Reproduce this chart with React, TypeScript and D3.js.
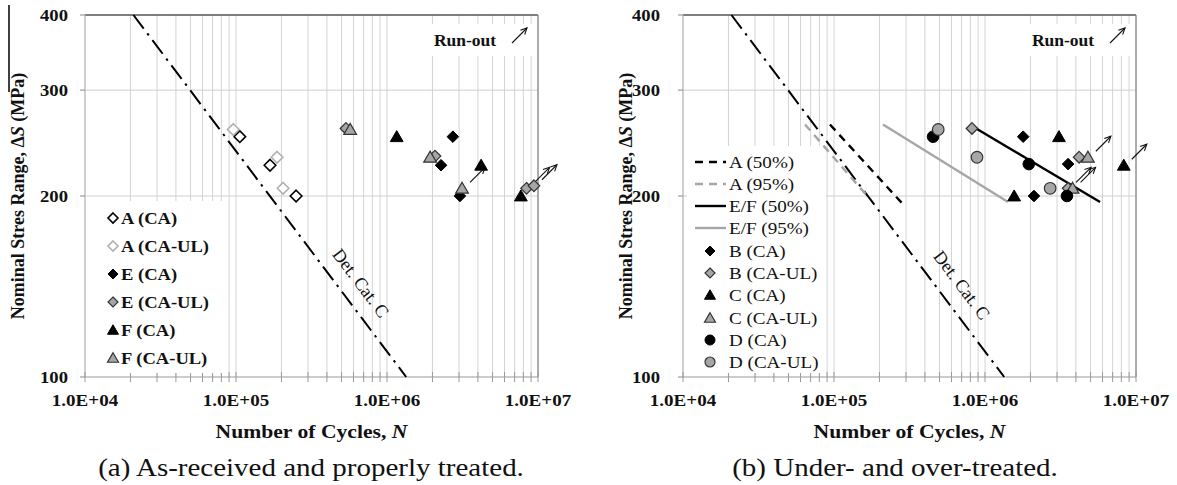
import React from 'react';
import * as d3 from 'd3';

type Pt = { n: number; s: number; ro?: boolean };

const yTickValues = [100, 200, 300, 400];
const yGridValues = [200, 300];
const xTickValues = [1e4, 1e5, 1e6, 1e7];
const xTickLabels = ['1.0E+04', '1.0E+05', '1.0E+06', '1.0E+07'];

// Panel (a)
const A_CA: Pt[] = [{ n: 1.06e5, s: 251 }, { n: 1.68e5, s: 225 }, { n: 2.5e5, s: 200 }];
const A_CAUL: Pt[] = [{ n: 9.6e4, s: 258 }, { n: 1.87e5, s: 232 }, { n: 2.05e5, s: 206 }];
const E_CA: Pt[] = [{ n: 2.73e6, s: 251 }, { n: 2.28e6, s: 225 }, { n: 3.04e6, s: 200 }];
const E_CAUL: Pt[] = [{ n: 5.35e5, s: 259 }, { n: 2.08e6, s: 233 }, { n: 8.4e6, s: 206, ro: true }, { n: 9.4e6, s: 208, ro: true }];
const F_CA: Pt[] = [{ n: 1.16e6, s: 251 }, { n: 4.2e6, s: 225 }, { n: 7.7e6, s: 200 }];
const F_CAUL: Pt[] = [{ n: 5.7e5, s: 258 }, { n: 1.93e6, s: 232 }, { n: 3.14e6, s: 206, ro: true }];

// Panel (b)
const B_CA: Pt[] = [{ n: 1.79e6, s: 251 }, { n: 3.55e6, s: 226 }, { n: 2.11e6, s: 200 }];
const B_CAUL: Pt[] = [{ n: 8.2e5, s: 259 }, { n: 4.2e6, s: 232 }, { n: 3.55e6, s: 206, ro: true }];
const C_CA: Pt[] = [{ n: 3.09e6, s: 251 }, { n: 8.3e6, s: 225, ro: true }, { n: 1.56e6, s: 200 }];
const C_CAUL: Pt[] = [{ n: 4.8e6, s: 232, ro: true }, { n: 3.8e6, s: 206, ro: true }];
const D_CA: Pt[] = [{ n: 4.53e5, s: 251 }, { n: 1.95e6, s: 226 }, { n: 3.49e6, s: 200 }];
const D_CAUL: Pt[] = [{ n: 4.9e5, s: 258 }, { n: 8.85e5, s: 232 }, { n: 2.7e6, s: 206 }];

// Fitted curves, panel (b): [N start, N end], [S start, S end]
const A50_N = [9.4e4, 2.82e5];
const A50_S = [263, 194.6];
const A95_N = [6.43e4, 1.66e5];
const A95_S = [263, 200];
const EF50_N = [8.3e5, 5.78e6];
const EF50_S = [261, 195.5];
const EF95_N = [2.11e5, 1.42e6];
const EF95_S = [263, 195.5];

// Detail category C: N = A / S^3
const DET_C_A = 1.34e12;
const DET_C_S = [400, 100];

const FONT = '"Liberation Serif", "Times New Roman", serif';
const GRAY = '#a6a6a6';

type Shape = 'diamond' | 'triangle' | 'circle';
interface MarkerStyle { shape: Shape; fill: string; stroke: string; sw: number }

const markerPath = (shape: Shape, size: number) => {
  if (shape === 'diamond') return `M0,${-size}L${size},0L0,${size}L${-size},0Z`;
  if (shape === 'triangle') return `M0,${-size * 1.05}L${size * 1.1},${size * 0.85}L${-size * 1.1},${size * 0.85}Z`;
  return '';
};

const Marker = ({ x, y, st, size }: { x: number; y: number; st: MarkerStyle; size: number }) =>
  st.shape === 'circle' ? (
    <circle cx={x} cy={y} r={size} fill={st.fill} stroke={st.stroke} strokeWidth={st.sw} />
  ) : (
    <path d={markerPath(st.shape, size)} transform={`translate(${x},${y})`} fill={st.fill} stroke={st.stroke} strokeWidth={st.sw} />
  );

const Arrow = ({ x1, y1, x2, y2 }: { x1: number; y1: number; x2: number; y2: number }) => {
  const ang = Math.atan2(y2 - y1, x2 - x1);
  const L = 7;
  const a1 = ang + Math.PI - 0.45;
  const a2 = ang + Math.PI + 0.45;
  return (
    <g stroke="#111" strokeWidth={1.1} fill="none">
      <line x1={x1} y1={y1} x2={x2} y2={y2} />
      <path d={`M${x2 + L * Math.cos(a1)},${y2 + L * Math.sin(a1)}L${x2},${y2}L${x2 + L * Math.cos(a2)},${y2 + L * Math.sin(a2)}`} />
    </g>
  );
};

// Horizontally stretched text (the reference is widened)
const SText = ({ x, y, sx, size, anchor, bold, children }: any) => (
  <text
    transform={`translate(${x},${y}) scale(${sx},1)`}
    textAnchor={anchor || 'start'}
    fontSize={size}
    fontWeight={bold ? 'bold' : 'normal'}
    fill="#111"
  >
    {children}
  </text>
);

interface SeriesDef { name: string; data: Pt[]; st: MarkerStyle }
interface LineDef { name: string; n: number[]; s: number[]; color: string; dash?: string }

interface PanelProps {
  x0: number;
  series: SeriesDef[];
  lines: LineDef[];
  legendBox: [number, number, number, number];
  legendRows: number[];
  legendBold: boolean;
  legendSx: number;
  markerX: number;
  textX: number;
  tickLabelX: number;
  yTitleX: number;
  detLabel: [number, number];
  caption: string;
  captionX: number;
}

const Y_TOP = 15;
const Y_BOT = 377;
const DEC = 151;

const Panel = (p: PanelProps) => {
  const x = d3.scaleLog().domain([1e4, 1e7]).range([p.x0, p.x0 + DEC * 3]);
  const y = d3.scaleLog().domain([100, 400]).range([Y_BOT, Y_TOP]);
  const x1 = p.x0 + DEC * 3;
  const minor: number[] = [];
  for (let d = 1e4; d < 1e7; d *= 10) for (let k = 1; k < 10; k++) minor.push(d * k);
  minor.push(1e7);
  const line = d3.line<[number, number]>().x((d) => x(d[0])).y((d) => y(d[1]));
  const detPts: [number, number][] = DET_C_S.map((s) => [DET_C_A / Math.pow(s, 3), s]);
  const [lbx, lby, lbw, lbh] = p.legendBox;
  const midX = (p.x0 + x1) / 2;
  let row = 0;
  return (
    <g fontFamily={FONT}>
      {/* grid */}
      {minor.map((v, i) => (
        <line key={'vg' + i} x1={x(v)} x2={x(v)} y1={Y_TOP} y2={Y_BOT} stroke="#d4d4d4" strokeWidth={1} />
      ))}
      {yGridValues.map((v) => (
        <line key={'hg' + v} x1={p.x0} x2={x1} y1={y(v)} y2={y(v)} stroke="#cfcfcf" strokeWidth={1} />
      ))}
      {/* run-out box */}
      <rect x={x1 - 118} y={24} width={116} height={32} fill="#fff" />
      <text x={x1 - 73} y={46} textAnchor="middle" fontSize={17.5} fontWeight="bold" fill="#111">Run-out</text>
      <Arrow x1={x1 - 26} y1={43} x2={x1 - 11} y2={28} />
      {/* frame */}
      <line x1={p.x0} x2={x1} y1={Y_TOP} y2={Y_TOP} stroke="#555" strokeWidth={1.3} />
      <line x1={x1} x2={x1} y1={Y_TOP} y2={Y_BOT} stroke="#8a8a8a" strokeWidth={1.3} />
      <line x1={p.x0} x2={p.x0} y1={Y_TOP} y2={Y_BOT} stroke="#b5b5b5" strokeWidth={1} />
      <line x1={p.x0} x2={x1} y1={Y_BOT} y2={Y_BOT} stroke="#9a9a9a" strokeWidth={1.2} />
      {minor.map((v, i) => (
        <line key={'xt' + i} x1={x(v)} x2={x(v)} y1={Y_BOT - 5} y2={Y_BOT + 5} stroke="#9a9a9a" strokeWidth={1} />
      ))}
      {yTickValues.map((v) => (
        <line key={'yt' + v} x1={p.x0 - 5} x2={p.x0} y1={y(v)} y2={y(v)} stroke="#888" strokeWidth={1} />
      ))}
      {/* tick labels */}
      {yTickValues.map((v) => (
        <SText key={'yl' + v} x={p.tickLabelX} y={y(v) + 6} sx={1.13} size={16.5} anchor="end" bold>{v}</SText>
      ))}
      {xTickValues.map((v, i) => (
        <SText key={'xl' + v} x={x(v)} y={406} sx={1.12} size={17} anchor="middle" bold>{xTickLabels[i]}</SText>
      ))}
      {/* titles */}
      <SText x={midX} y={438} sx={1.11} size={19.5} anchor="middle" bold>
        Number of Cycles, <tspan fontStyle="italic">N</tspan>
      </SText>
      <text transform={`translate(${p.yTitleX},196) rotate(-90)`} dy="0.35em" textAnchor="middle" fontSize={18} fontWeight="bold" fill="#111">
        Nominal Stres Range,  Δ<tspan fontStyle="italic">S</tspan> (MPa)
      </text>
      <SText x={p.captionX} y={476} sx={1.16} size={25} anchor="middle">{p.caption}</SText>
      {/* legend box */}
      <rect x={lbx} y={lby} width={lbw} height={lbh} fill="#fff" />
      {/* Det. Cat. C */}
      <path d={line(detPts) || ''} fill="none" stroke="#000" strokeWidth={2} strokeDasharray="17,6,2.5,6" />
      <text transform={`translate(${p.detLabel[0]},${p.detLabel[1]}) rotate(53)`} textAnchor="middle" dy="0.35em" fontSize={18} fill="#111">Det. Cat. C</text>
      {/* curves */}
      {p.lines.map((l) => (
        <path key={l.name} d={line([[l.n[0], l.s[0]], [l.n[1], l.s[1]]]) || ''} fill="none" stroke={l.color} strokeWidth={2.4} strokeDasharray={l.dash} />
      ))}
      {/* run-out arrows */}
      {p.series.flatMap((s) =>
        s.data.filter((d) => d.ro).map((d, i) => {
          const px = x(d.n);
          const py = y(d.s);
          return <Arrow key={s.name + 'ro' + i} x1={px + 8} y1={py - 6} x2={px + 23} y2={py - 21} />;
        })
      )}
      {/* points */}
      {p.series.map((s) => (
        <g key={s.name}>
          {s.data.map((d, i) => (
            <Marker key={i} x={x(d.n)} y={y(d.s)} st={s.st} size={5.8} />
          ))}
        </g>
      ))}
      {/* legend entries */}
      {p.lines.map((l) => {
        const yy = p.legendRows[row++];
        return (
          <g key={'ll' + l.name}>
            <line x1={p.markerX - 15} x2={p.markerX + 16} y1={yy} y2={yy} stroke={l.color} strokeWidth={2.4} strokeDasharray={l.dash} />
            <SText x={p.textX} y={yy + 6} sx={p.legendSx} size={17.5} bold={p.legendBold}>{l.name}</SText>
          </g>
        );
      })}
      {p.series.map((s) => {
        const yy = p.legendRows[row++];
        return (
          <g key={'ls' + s.name}>
            <Marker x={p.markerX} y={yy} st={s.st} size={5} />
            <SText x={p.textX} y={yy + 6} sx={p.legendSx} size={17.5} bold={p.legendBold}>{s.name}</SText>
          </g>
        );
      })}
    </g>
  );
};

const blackDia: MarkerStyle = { shape: 'diamond', fill: '#000', stroke: '#000', sw: 1 };
const grayDia: MarkerStyle = { shape: 'diamond', fill: GRAY, stroke: '#333', sw: 1.2 };
const blackTri: MarkerStyle = { shape: 'triangle', fill: '#000', stroke: '#000', sw: 1 };
const grayTri: MarkerStyle = { shape: 'triangle', fill: GRAY, stroke: '#333', sw: 1.2 };
const blackCir: MarkerStyle = { shape: 'circle', fill: '#000', stroke: '#000', sw: 1 };
const grayCir: MarkerStyle = { shape: 'circle', fill: GRAY, stroke: '#333', sw: 1.2 };

const seriesA: SeriesDef[] = [
  { name: 'A (CA)', data: A_CA, st: { shape: 'diamond', fill: '#fff', stroke: '#000', sw: 1.6 } },
  { name: 'A (CA-UL)', data: A_CAUL, st: { shape: 'diamond', fill: '#fff', stroke: '#b0b0b0', sw: 1.6 } },
  { name: 'E (CA)', data: E_CA, st: blackDia },
  { name: 'E (CA-UL)', data: E_CAUL, st: grayDia },
  { name: 'F (CA)', data: F_CA, st: blackTri },
  { name: 'F (CA-UL)', data: F_CAUL, st: grayTri },
];

const seriesB: SeriesDef[] = [
  { name: 'B (CA)', data: B_CA, st: blackDia },
  { name: 'B (CA-UL)', data: B_CAUL, st: grayDia },
  { name: 'C (CA)', data: C_CA, st: blackTri },
  { name: 'C (CA-UL)', data: C_CAUL, st: grayTri },
  { name: 'D (CA)', data: D_CA, st: blackCir },
  { name: 'D (CA-UL)', data: D_CAUL, st: grayCir },
];

const linesB: LineDef[] = [
  { name: 'A (50%)', n: A50_N, s: A50_S, color: '#000', dash: '8,6' },
  { name: 'A (95%)', n: A95_N, s: A95_S, color: GRAY, dash: '8,6' },
  { name: 'E/F (50%)', n: EF50_N, s: EF50_S, color: '#000' },
  { name: 'E/F (95%)', n: EF95_N, s: EF95_S, color: GRAY },
];

export default function App() {
  return (
    <svg width={1177} height={485} style={{ position: 'absolute', left: 0, top: 0, background: '#fff' }}>
      <rect width={1177} height={485} fill="#fff" />
      <line x1={9} x2={9} y1={5} y2={92} stroke="#000" strokeWidth={1.5} />
      <Panel
        x0={85}
        series={seriesA}
        lines={[]}
        legendBox={[87, 201, 139, 172]}
        legendRows={[218, 246, 274, 302, 330, 358]}
        legendBold={true}
        legendSx={1.06}
        markerX={113}
        textX={121}
        tickLabelX={68}
        yTitleX={18}
        detLabel={[361, 283]}
        caption="(a) As-received and properly treated."
        captionX={311}
      />
      <Panel
        x0={683}
        series={seriesB}
        lines={linesB}
        legendBox={[687, 146, 139, 227]}
        legendRows={[162, 184, 206, 228, 251, 273, 295, 318, 340, 362]}
        legendBold={false}
        legendSx={1.09}
        markerX={710}
        textX={729}
        tickLabelX={660}
        yTitleX={626}
        detLabel={[962, 285]}
        caption="(b) Under- and over-treated."
        captionX={895}
      />
    </svg>
  );
}
